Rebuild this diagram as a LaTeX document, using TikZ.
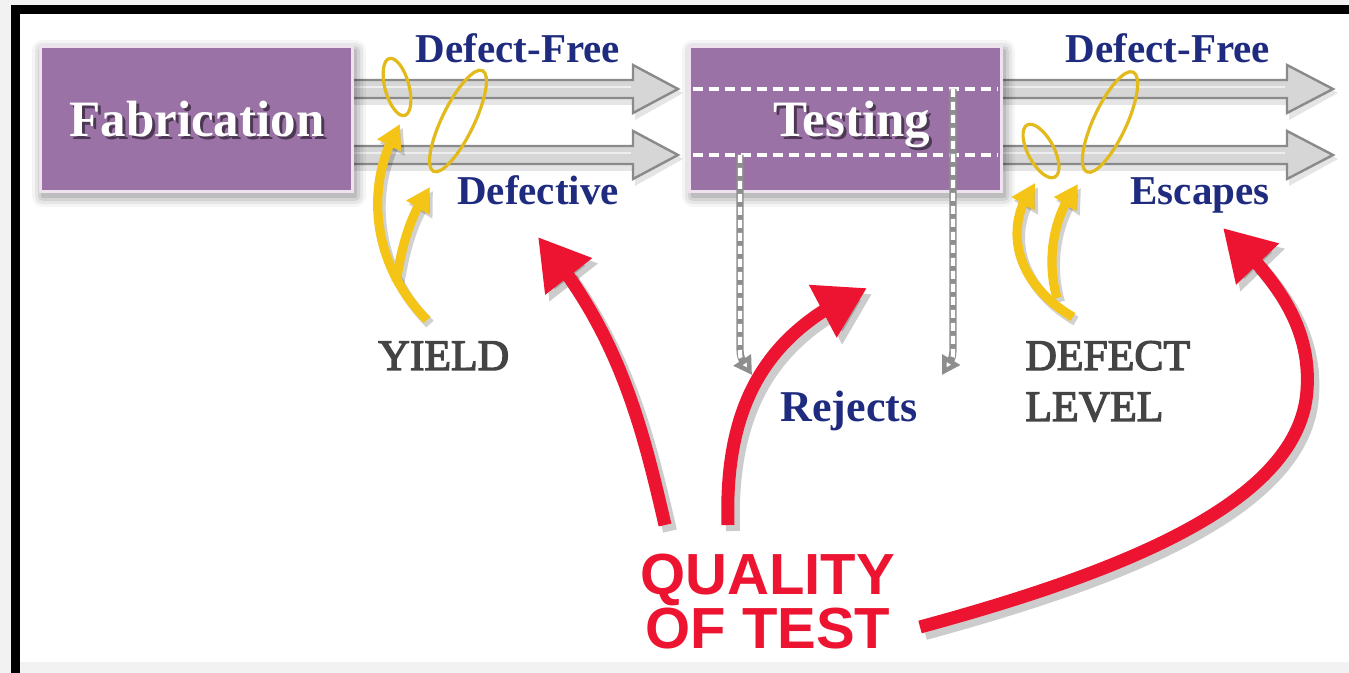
\documentclass[tikz,border=0pt]{standalone}
\usepackage{fontspec}
\setmainfont{Liberation Serif}
\newfontfamily\qfont{Liberation Sans}
\newfontfamily\heavyserif[FakeBold=3]{Liberation Serif}
\usetikzlibrary{arrows.meta,bending}
\definecolor{bgray}{HTML}{F2F2F2}
\definecolor{purp}{HTML}{9A72A6}
\definecolor{purpedge}{HTML}{EDE2EE}
\definecolor{navy}{HTML}{1F2B7E}
\definecolor{tgray}{HTML}{444444}
\definecolor{qred}{HTML}{EC1430}
\definecolor{ylw}{HTML}{F4C417}
\definecolor{ringc}{HTML}{E2BA1C}
\definecolor{barfill}{HTML}{D6D6D6}
\definecolor{baredge}{HTML}{8A8A8A}
\definecolor{dgray}{HTML}{8E8E8E}
\newcommand\barArrow[4]{%
  \fill[black,opacity=0.10] (#1+2,#4-12+4) -- (#2+2,#4-12+4) -- (#2+2,#4-27+4) -- (#3+5,#4+4) -- (#2+2,#4+27+4) -- (#2+2,#4+12+4) -- (#1+2,#4+12+4) -- cycle;
  \filldraw[fill=barfill,draw=baredge,line width=1.2pt,line join=miter]
    (#1,#4-9) -- (#2,#4-9) -- (#2,#4-24) -- (#3,#4) -- (#2,#4+24) -- (#2,#4+9) -- (#1,#4+9) -- cycle;
  \draw[white,opacity=0.6,line width=1.2pt] (#1,#4-2) -- (#2-2,#4-2);}
\newcommand\boxShade[4]{%
  \foreach \k/\o in {11/0.04,8/0.06,5/0.08,2/0.10}{
    \fill[black,opacity=\o,rounded corners=\k*0.5pt] (#1-\k+3,#2-\k+4) rectangle (#3+\k+3,#4+\k+4);}}
\begin{document}
\begin{tikzpicture}[x=0.5pt,y=-0.5pt,
  bluelbl/.style={text=navy,font=\bfseries\fontsize{20.5}{24}\selectfont,inner sep=0pt,anchor=base},
  graylbl/.style={text=tgray,font=\heavyserif\fontsize{21.8}{26}\selectfont,inner sep=0pt,anchor=base west},
  boxlbl/.style={text=white,font=\bfseries\fontsize{25.5}{30}\selectfont,inner sep=0pt,anchor=base},
  boxlblsh/.style={boxlbl,text=black,opacity=0.5},
  qlbl/.style={text=qred,font=\qfont\bfseries\fontsize{29}{34}\selectfont,inner sep=0pt,anchor=base west},
  procbox/.style={fill=purp,draw=purpedge,line width=1.5pt,minimum width=156pt,minimum height=72.5pt,inner sep=0pt},
  redarrow/.style={draw=qred,line width=6.5pt,-{Triangle[length=25pt,width=28pt]}},
  redshade/.style={draw=black,opacity=0.2,line width=7pt,-{Triangle[length=25pt,width=29pt]},transform canvas={shift={(2.5pt,-3pt)}}},
  yelarrow/.style={draw=ylw,line width=4.6pt,-{Triangle[length=12pt,width=12.5pt]}},
  yelshade/.style={draw=black,opacity=0.18,line width=5pt,-{Triangle[length=12pt,width=13pt]},transform canvas={shift={(1.5pt,-2pt)}}},
  ring/.style={draw=ringc,line width=1.6pt},
  vunder/.style={draw=dgray,line width=3.6pt,-{Triangle[length=9pt,width=10pt,fill=white]}},
  vover/.style={draw=white,line width=2.1pt,dash pattern=on 4pt off 2.5pt,shorten >=8pt},
  hdash/.style={draw=white,line width=2pt,dash pattern=on 5pt off 3pt}
]
\useasboundingbox (0,0) rectangle (1349,673);
% background and frame
\fill[bgray] (0,0) rectangle (1349,673);
\fill[white] (20,14) rectangle (1349,662);
\fill[black] (11,5) rectangle (20,673);
\fill[black] (11,5) rectangle (1349,14);

% gray flow arrows
\barArrow{345}{633}{678}{89}
\barArrow{345}{633}{678}{155}
\barArrow{995}{1287}{1333}{89}
\barArrow{995}{1287}{1333}{155}

% process boxes
\boxShade{40}{47}{352}{192}
\boxShade{690}{47}{1001}{192}
\node[procbox] (fab) at (196,119.5) {};
\node[procbox] (tst) at (845.5,119.5) {};

% dashed lines inside testing box
\draw[hdash] (693,89) -- (998,89);
\draw[hdash] (693,155) -- (998,155);

% yellow rings
\draw[ring,rotate around={15:(397,87)}] (397,87) ellipse [x radius=12, y radius=29.5];
\draw[ring,rotate around={-26:(458,121)}] (458,121) ellipse [x radius=16, y radius=56];
\draw[ring,rotate around={28:(1041,151)}] (1041,151) ellipse [x radius=13, y radius=29.5];
\draw[ring,rotate around={-25:(1110,122)}] (1110,122) ellipse [x radius=16.5, y radius=55];

% box labels
\node[boxlblsh] (fabsh) at (200,140) {Fabrication};
\node[boxlbl] (fablbl) at (197,137) {Fabrication};
\node[boxlblsh] (tstsh) at (855,140) {Testing};
\node[boxlbl] (tstlbl) at (852,137) {Testing};

% blue labels
\node[bluelbl] (df1) at (518,63) {Defect-Free};
\node[bluelbl] (dfv) at (538,205) {Defective};
\node[bluelbl] (df2) at (1168,63) {Defect-Free};
\node[bluelbl] (esc) at (1200,205) {Escapes};
\node[bluelbl,font=\bfseries\fontsize{22}{26}\selectfont] (rej) at (849,422) {Rejects};

% gray labels
\node[graylbl] (yld) at (378,370) {YIELD};
\node[graylbl] (dl1) at (1025,370) {DEFECT};
\node[graylbl] (dl2) at (1025,421) {LEVEL};

% quality of test
\node[qlbl] (q1) at (640,594) {QUALITY};
\node[qlbl] (q2) at (645,648) {OF TEST};

% yellow arrows
\coordinate (y1s) at (427,320); \coordinate (y1t) at (400,124);
\coordinate (y2s) at (396,282); \coordinate (y2t) at (430,187);
\coordinate (y3s) at (1073,317); \coordinate (y3t) at (1035,183);
\coordinate (y4s) at (1057,298); \coordinate (y4t) at (1078,184);
\foreach \st in {yelshade,yelarrow}{
  \draw[\st] (y1s) .. controls (372,265) and (363,185) .. (y1t);
  \draw[\st] (y2s) .. controls (402,245) and (410,215) .. (y2t);
  \draw[\st] (y3s) .. controls (1018,285) and (1000,230) .. (y3t);
  \draw[\st] (y4s) .. controls (1046,260) and (1053,215) .. (y4t);
}

% red arrows
\coordinate (r1s) at (665,525); \coordinate (r1t) at (538,237);
\coordinate (r2s) at (728,525); \coordinate (r2t) at (867,288);
\coordinate (r3s) at (920,627); \coordinate (r3m) at (1307,390); \coordinate (r3t) at (1223,228);
\foreach \st in {redshade,redarrow}{
  \draw[\st] (r1s) .. controls (642,425) and (618,330) .. (r1t);
  \draw[\st] (r2s) .. controls (724,400) and (770,330) .. (r2t);
  \draw[\st] (r3s) .. controls (1130,570) and (1300,500) .. (r3m) .. controls (1312,320) and (1268,272) .. (r3t);
}

% reject dashed connectors
\coordinate (d1s) at (740,155); \coordinate (d1t) at (752,375);
\coordinate (d2s) at (953,89); \coordinate (d2t) at (942,375);
\draw[vunder] (d1s) -- (740,345) .. controls (740,358) .. (d1t);
\draw[vover] (d1s) -- (740,345) .. controls (740,358) .. (d1t);
\draw[vunder] (d2s) -- (953,345) .. controls (953,358) .. (d2t);
\draw[vover] (d2s) -- (953,345) .. controls (953,358) .. (d2t);
\end{tikzpicture}
\end{document}
